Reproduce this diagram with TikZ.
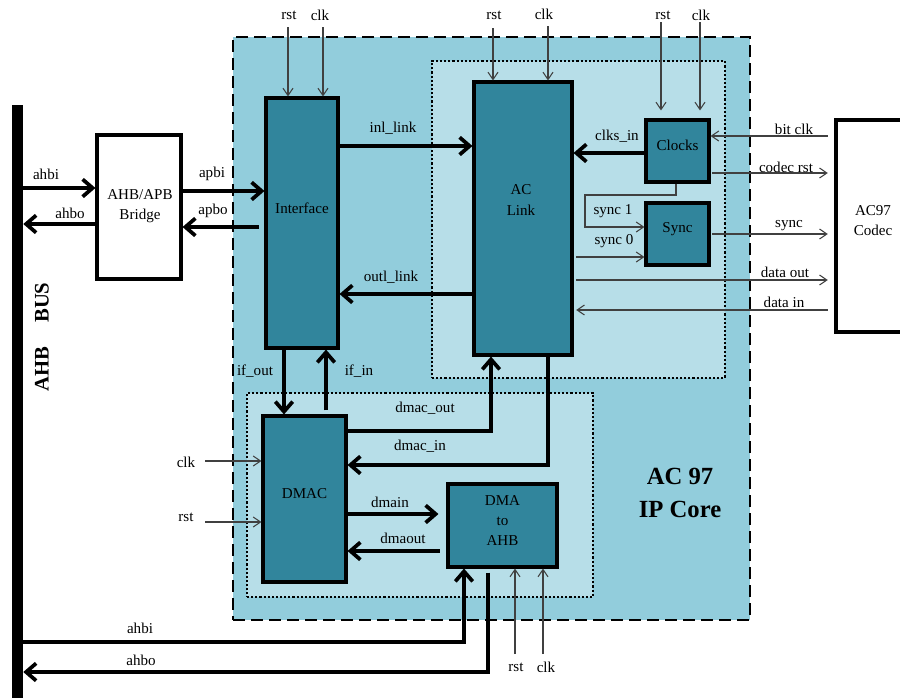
\documentclass[tikz,border=0pt]{standalone}
\usepackage{fontspec}
\setmainfont{Liberation Serif}
\usetikzlibrary{fit,arrows.meta}
\definecolor{outerc}{HTML}{92CDDC}
\definecolor{innerc}{HTML}{B7DEE8}
\definecolor{blockc}{HTML}{31859C}
\definecolor{thinc}{HTML}{404040}
\begin{document}
\begin{tikzpicture}[x=0.75pt,y=-0.75pt,
  lbl/.style={font=\fontsize{11.3}{15}\selectfont, inner sep=0pt, align=center},
  block/.style={draw=black, line width=2.3pt, fill=blockc, inner sep=0pt, font=\fontsize{11.3}{15}\selectfont, align=center},
  wbox/.style={draw=black, line width=2.3pt, fill=white, inner sep=0pt},
  region/.style={fill=innerc, draw=black, line width=1.7pt, dash pattern=on 1.6pt off 1.5pt, inner sep=0pt},
  bigarr/.style={line width=2.8pt, -{Straight Barb[length=7.5pt,width=13pt]}},
  thinarr/.style={draw=thinc, line width=0.8pt, -{Straight Barb[length=5.5pt,width=7.5pt]}},
]
\useasboundingbox (0,0) rectangle (900,697);

% bus
\node[fill=black, inner sep=0pt, fit={(12,105)(23,700)}] (bus) {};
\node[rotate=90, font=\bfseries\fontsize{15.5}{18}\selectfont, inner sep=0pt] (bustxt) at (42,337) {AHB\hspace{18pt}BUS};

% regions
\node[fill=outerc, draw=black, line width=2.2pt, dash pattern=on 9pt off 4.5pt, inner sep=0pt, fit={(233,37)(750,620)}] (core) {};
\node[region, fit={(432,61)(725,378)}] (linkreg) {};
\node[region, fit={(247,393)(593,597)}] (dmareg) {};
\node[font=\bfseries\fontsize{18.5}{24.5}\selectfont, align=center, inner sep=0pt] (coretxt) at (680,493) {AC 97\\IP Core};

% blocks
\node[wbox, fit={(97,135)(181,279)}] (bridge) {};
\node[lbl] (bridgetxt) at (140,206) {AHB/APB\\Bridge};
\node[block, fit={(266,98)(338,348)}] (iface) {};
\node[lbl] (ifacetxt) at (302,208) {Interface};
\node[block, fit={(474,82)(572,355)}] (aclink) {};
\node[lbl, font=\fontsize{11.3}{15.75}\selectfont] (aclinktxt) at (521,200) {AC\\Link};
\node[block, fit={(646,120)(709,182)}] (clocks) {Clocks};
\node[block, fit={(646,203)(709,265)}] (sync) {Sync};
\node[block, fit={(263,416)(346,582)}] (dmac) {DMAC};
\node[block, fit={(448,484)(557,567)}] (dma) {DMA\\to\\AHB};
\node[wbox, fit={(836,120)(930,332)}] (codec) {};
\node[lbl] (codectxt) at (873,221) {AC97\\Codec};

% thick connectors
\draw[bigarr] (bus.east |- 0,188) -- (bridge.west |- 0,188);
\draw[bigarr] (bridge.west |- 0,224) -- (bus.east |- 0,224);
\draw[bigarr] (bridge.east |- 0,191) -- (iface.west |- 0,191);
\draw[bigarr, shorten <=4pt] (iface.west |- 0,227) -- (bridge.east |- 0,227);
\draw[bigarr] (iface.east |- 0,146) -- (aclink.west |- 0,146);
\draw[bigarr] (aclink.west |- 0,294) -- (iface.east |- 0,294);
\draw[bigarr] (clocks.west |- 0,153) -- (aclink.east |- 0,153);
\draw[bigarr] (iface.south -| 284,0) -- (dmac.north -| 284,0);
\draw[bigarr, shorten <=3pt] (dmac.north -| 326,0) -- (iface.south -| 326,0);
\draw[bigarr] (dmac.east |- 0,431) -| (aclink.south -| 491,0);
\draw[bigarr] (aclink.south -| 548,0) |- (dmac.east |- 0,465);
\draw[bigarr, shorten >=6pt] (dmac.east |- 0,514) -- (dma.west |- 0,514);
\draw[bigarr, shorten <=5pt] (dma.west |- 0,551) -- (dmac.east |- 0,551);
\draw[bigarr] (bus.east |- 0,642) -| (dma.south -| 464,0);
\draw[bigarr, shorten <=3pt] (dma.south -| 488,0) |- (bus.east |- 0,672);

% thin connectors
\coordinate (irst) at (288,27);
\coordinate (iclk) at (323,27);
\coordinate (arst) at (493,28);
\coordinate (aclk) at (548,26);
\coordinate (crst) at (661,22);
\coordinate (cclk) at (700,22);
\coordinate (drst) at (205,522);
\coordinate (dclk) at (205,461);
\coordinate (brst) at (515,654);
\coordinate (bclk) at (543,654);
\coordinate (s1c) at (585,195);
\draw[thinarr] (irst) -- (iface.north -| irst);
\draw[thinarr] (iclk) -- (iface.north -| iclk);
\draw[thinarr] (arst) -- (aclink.north -| arst);
\draw[thinarr] (aclk) -- (aclink.north -| aclk);
\draw[thinarr, shorten >=6pt] (crst) -- (clocks.north -| crst);
\draw[thinarr, shorten >=6pt] (cclk) -- (clocks.north -| cclk);
\draw[thinarr] (dclk) -- (dmac.west |- dclk);
\draw[thinarr] (drst) -- (dmac.west |- drst);
\draw[thinarr] (brst) -- (dma.south -| brst);
\draw[thinarr] (bclk) -- (dma.south -| bclk);
\draw[thinarr, shorten <=5pt] (codec.west |- 0,136) -- (clocks.east |- 0,136);
\draw[thinarr, shorten <=1pt, shorten >=5pt] (clocks.east |- 0,173) -- (codec.west |- 0,173);
\draw[thinarr] (clocks.south -| 676,0) |- (s1c) |- (sync.west |- 0,227);
\draw[thinarr, shorten <=2pt] (aclink.east |- 0,257) -- (sync.west |- 0,257);
\draw[thinarr, shorten <=1pt, shorten >=5pt] (sync.east |- 0,234) -- (codec.west |- 0,234);
\draw[thinarr, shorten <=2pt, shorten >=5pt] (aclink.east |- 0,280) -- (codec.west |- 0,280);
\draw[thinarr, shorten <=5pt, shorten >=2pt] (codec.west |- 0,310) -- (aclink.east |- 0,310);

% labels
\node[lbl] (l1) at (46,174) {ahbi};
\node[lbl] (l2) at (70,213) {ahbo};
\node[lbl] (l3) at (212,174) {apbi};
\node[lbl] (l4) at (213,211) {apbo};
\node[lbl] (l5) at (393,128) {inl\_link};
\node[lbl] (l6) at (391,277) {outl\_link};
\node[lbl] (l7) at (289,15) {rst};
\node[lbl] (l8) at (320,15) {clk};
\node[lbl] (l9) at (494,15) {rst};
\node[lbl] (l10) at (544,14) {clk};
\node[lbl] (l11) at (663,15) {rst};
\node[lbl] (l12) at (701,15) {clk};
\node[lbl] (l13) at (794,129) {bit clk};
\node[lbl] (l14) at (786,167) {codec rst};
\node[lbl] (l15) at (617,136) {clks\_in};
\node[lbl] (l16) at (613,211) {sync 1};
\node[lbl] (l17) at (614,241) {sync 0};
\node[lbl] (l18) at (789,226) {sync};
\node[lbl] (l19) at (785,272) {data out};
\node[lbl] (l20) at (784,302) {data in};
\node[lbl] (l21) at (255,371) {if\_out};
\node[lbl] (l22) at (359,371) {if\_in};
\node[lbl] (l23) at (425,408) {dmac\_out};
\node[lbl] (l24) at (420,446) {dmac\_in};
\node[lbl] (l25) at (390,502) {dmain};
\node[lbl] (l26) at (403,538) {dmaout};
\node[lbl] (l27) at (186,462) {clk};
\node[lbl] (l28) at (186,517) {rst};
\node[lbl] (l29) at (140,628) {ahbi};
\node[lbl] (l30) at (141,660) {ahbo};
\node[lbl] (l31) at (516,667) {rst};
\node[lbl] (l32) at (546,667) {clk};
\end{tikzpicture}
\end{document}
